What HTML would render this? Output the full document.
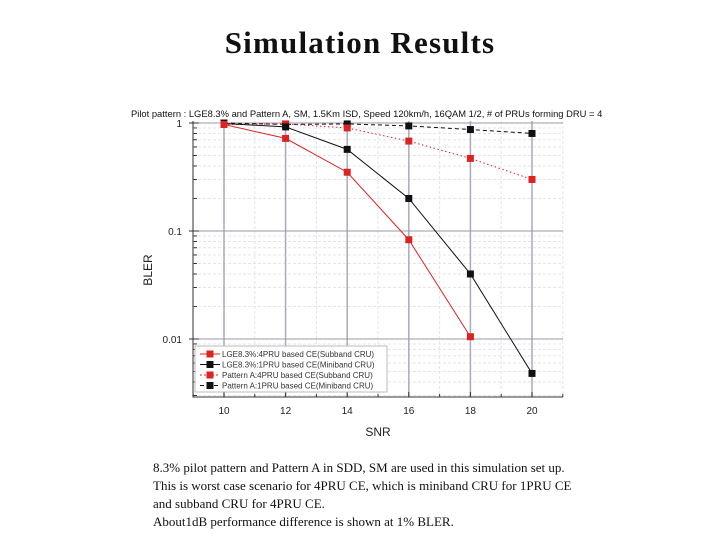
<!DOCTYPE html>
<html><head><meta charset="utf-8"><style>
body{margin:0;width:720px;height:540px;background:#fff;overflow:hidden;position:relative;font-family:"Liberation Sans",sans-serif}
#title{position:absolute;left:0;width:720px;top:25px;text-align:center;font:bold 31px "Liberation Serif",serif;letter-spacing:1.2px;color:#111}
#cap{position:absolute;left:153px;top:459px;font:13px "Liberation Serif",serif;line-height:18px;color:#111}
svg{position:absolute;left:0;top:0}
</style></head><body>
<div id="title">Simulation Results</div>
<svg id="chart" width="720" height="540"></svg>
<div id="cap">8.3% pilot pattern and Pattern A in SDD, SM are used in this simulation set up.<br>This is worst case scenario for 4PRU CE, which is miniband CRU for 1PRU CE<br>and subband CRU for 4PRU CE.<br>About1dB performance difference is shown at 1% BLER.</div>
<script>
const snr=[10,12,14,16,18,20];
const redSolid=[0.97,0.72,0.35,0.083,0.0105,null];
const blackSolid=[0.99,0.92,0.57,0.2,0.04,0.0048];
const redDotted=[0.97,0.98,0.9,0.68,0.47,0.3];
const blackDashed=[1.0,0.97,0.98,0.94,0.87,0.8];
const xTicks=[10,12,14,16,18,20];
const yTicks=[1,0.1,0.01];
const yTickLabels=["1","0.1","0.01"];
const legendLabels=["LGE8.3%:4PRU based CE(Subband CRU)","LGE8.3%:1PRU based CE(Miniband CRU)","Pattern A:4PRU based CE(Subband CRU)","Pattern A:1PRU based CE(Miniband CRU)"];
const NS="http://www.w3.org/2000/svg";
const svg=document.getElementById('chart');
const L=193,R=563,T=121,B=397;
const X=v=>224+(v-10)*30.8;
const Y=v=>123-Math.log10(v)*108;
function mk(t,a,p){const e=document.createElementNS(NS,t);for(const k in a)e.setAttribute(k,a[k]);(p||svg).appendChild(e);return e;}
for(let d=0;d>=-3;d--)for(let m=2;m<=9;m++){const v=m*Math.pow(10,d-1);const y=Y(v);if(y<T||y>B)continue;
const g=mk('line',{x1:L,x2:R,y1:y,y2:y,stroke:'#e4e4ee',"stroke-dasharray":'3,2'});


mk('line',{x1:L,x2:L+4,y1:y,y2:y,stroke:'#333'});}
for(let v=9;v<=21;v++){if(v%2===0)continue;const g=mk('line',{x1:X(v),x2:X(v),y1:T,y2:B,stroke:'#e4e4ee',"stroke-dasharray":'3,2'});


mk('line',{x1:X(v),x2:X(v),y1:B,y2:B-3,stroke:'#333'});}
xTicks.forEach(v=>{const g=mk('line',{x1:X(v),x2:X(v),y1:T,y2:B,stroke:'#aab',"stroke-width":1.5});


mk('line',{x1:X(v),x2:X(v),y1:B,y2:B-5,stroke:'#333'});
const t=mk('text',{x:X(v),y:414,"text-anchor":'middle',"font-size":10,fill:'#222'});t.textContent=v;

});
yTicks.forEach((v,i)=>{const g=mk('line',{x1:L,x2:R,y1:Y(v),y2:Y(v),stroke:'#99a'});


mk('line',{x1:L-4,x2:L+6,y1:Y(v),y2:Y(v),stroke:'#333'});
const t=mk('text',{x:182,y:Y(v)+4,"text-anchor":'end',"font-size":10,fill:'#222'});t.textContent=yTickLabels[i];

});
const ax=mk('path',{d:`M${L},${T}V${B}H${R}`,stroke:'#333',fill:'none'});


function series(vals,col,dash,name){let d='';vals.forEach((v,i)=>{if(v==null)return;d+=(d?'L':'M')+X(snr[i])+','+Y(v);});
const p=mk('path',{d,stroke:col,fill:'none',"stroke-dasharray":dash,"stroke-width":1});


vals.forEach((v,i)=>{if(v==null)return;const r=mk('rect',{x:X(snr[i])-3.5,y:Y(v)-3.5,width:7,height:7,fill:col});

});}
series(blackDashed,'#111','4,3','pattern-a-1pru');
series(redDotted,'#d22','1.5,2.5','pattern-a-4pru');
series(blackSolid,'#111','','lge-1pru');
series(redSolid,'#d22','','lge-4pru');
const ttl=mk('text',{x:131,y:117,"font-size":9.4,fill:'#111'});ttl.textContent='Pilot pattern : LGE8.3% and Pattern A, SM, 1.5Km ISD, Speed 120km/h, 16QAM 1/2, # of PRUs forming DRU = 4';


const yl=mk('text',{x:152,y:270,"font-size":12,fill:'#222',"text-anchor":'middle',transform:'rotate(-90 152 270)'});yl.textContent='BLER';


const xl=mk('text',{x:378,y:436,"font-size":12,fill:'#222',"text-anchor":'middle'});xl.textContent='SNR';


const lb=mk('rect',{x:195,y:346,width:192,height:46,fill:'#fff',stroke:'#bbb'});


const lc=['#d22','#111','#d22','#111'],ld=['','','2,2','4,3'];
legendLabels.forEach((s,i)=>{const y=354+i*10.5;
mk('line',{x1:200,x2:220,y1:y,y2:y,stroke:lc[i],"stroke-dasharray":ld[i]});
mk('rect',{x:206.5,y:y-3.5,width:7,height:7,fill:lc[i]});
const t=mk('text',{x:222,y:y+3,"font-size":8,fill:'#333'});t.textContent=s;

});
</script>
</body></html>
